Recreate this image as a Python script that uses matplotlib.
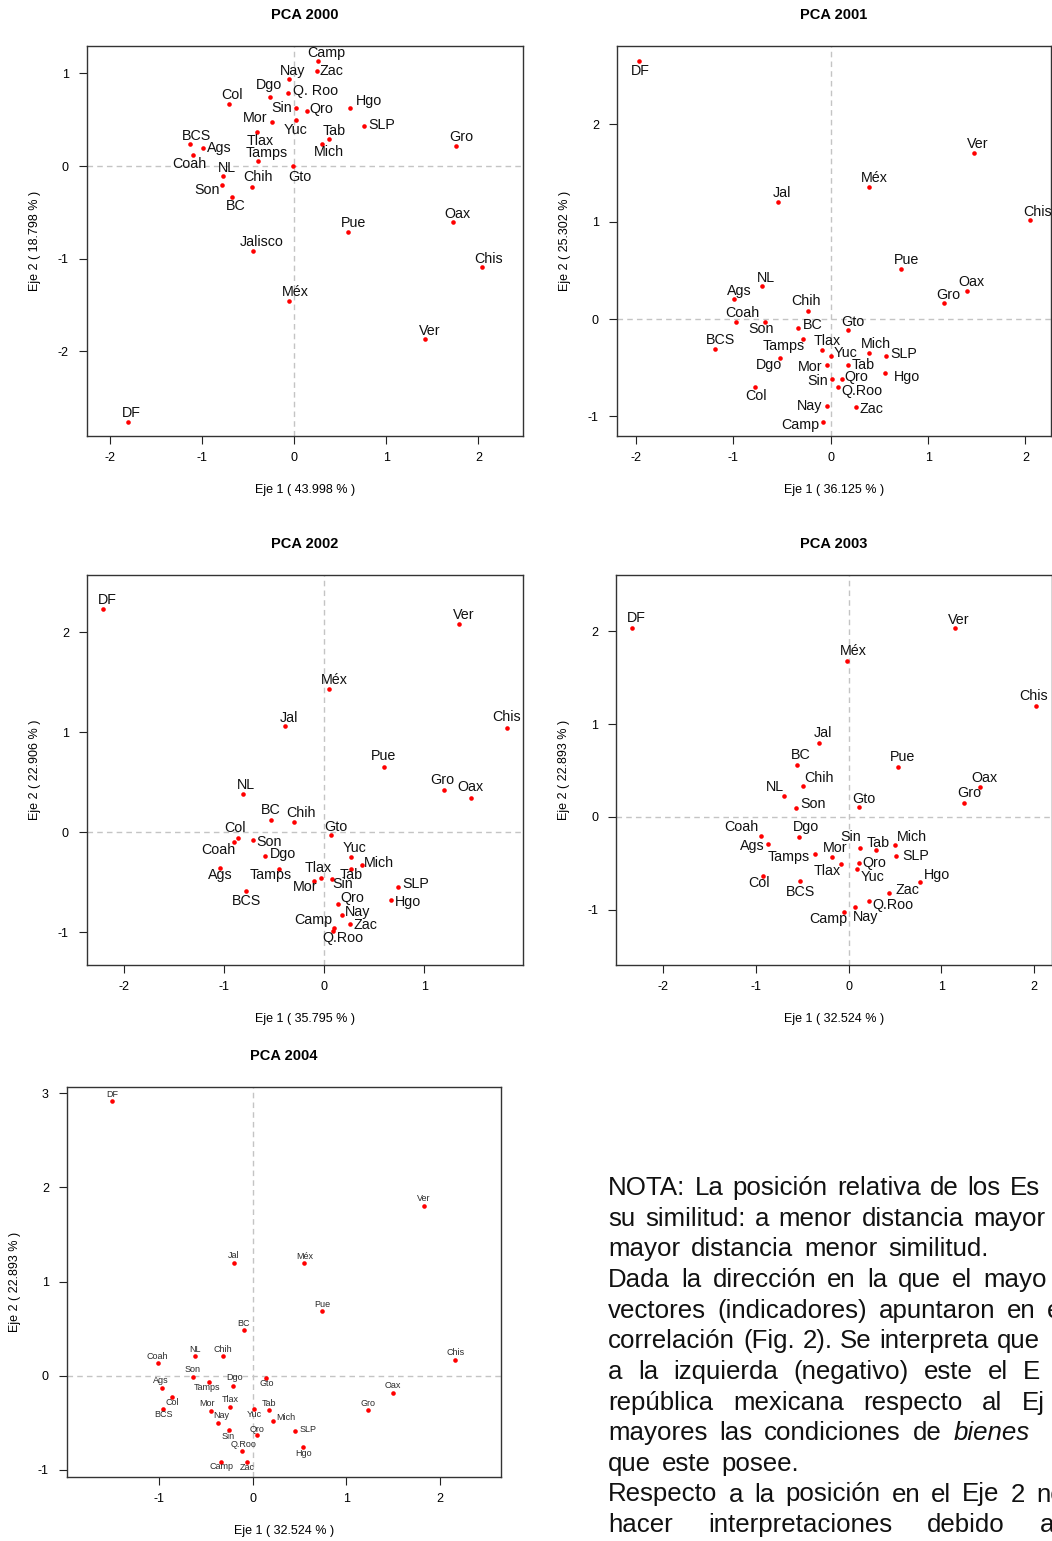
import matplotlib
matplotlib.use('Agg')
import matplotlib.pyplot as plt

plt.rcParams['font.family'] = ['Liberation Sans', 'DejaVu Sans']

W, H = 1052, 1541
fig = plt.figure(figsize=(W / 100, H / 100), dpi=100)

# ---------------- data ----------------
years = [2000, 2001, 2002, 2003, 2004]
eje1_pct = ['43.998', '36.125', '35.795', '32.524', '32.524']
eje2_pct = ['18.798', '25.302', '22.906', '22.893', '22.893']

names_2000 = ['Camp', 'Zac', 'Nay', 'Q. Roo', 'Dgo', 'Col', 'Sin', 'Qro', 'Hgo', 'Mor',
              'Yuc', 'SLP', 'Tlax', 'Tab', 'Mich', 'BCS', 'Ags', 'Coah', 'Tamps', 'Gto',
              'Gro', 'NL', 'Son', 'Chih', 'BC', 'Oax', 'Pue', 'Jalisco', 'Chis', 'Méx',
              'Ver', 'DF']
x_2000 = [0.264, 0.246, -0.051, -0.061, -0.260, -0.701, 0.018, 0.141, 0.611, -0.239,
          0.018, 0.756, -0.401, 0.376, 0.304, -1.124, -0.987, -1.095, -0.394, -0.014,
          1.761, -0.774, -0.781, -0.452, -0.676, 1.721, 0.589, -0.445, 2.043, -0.051,
          1.424, -1.804]
y_2000 = [1.137, 1.022, 0.939, 0.791, 0.745, 0.673, 0.626, 0.594, 0.629, 0.478,
          0.500, 0.435, 0.371, 0.288, 0.237, 0.234, 0.198, 0.115, 0.050, -0.004,
          0.219, -0.112, -0.201, -0.223, -0.331, -0.608, -0.712, -0.917, -1.090, -1.457,
          -1.867, -2.759]

names_2001 = ['DF', 'Ver', 'Méx', 'Jal', 'Chis', 'Pue', 'Oax', 'Gro', 'NL', 'Ags',
              'Chih', 'Coah', 'Son', 'BC', 'Gto', 'BCS', 'Tamps', 'Tlax', 'Mich', 'Yuc',
              'SLP', 'Dgo', 'Mor', 'Tab', 'Hgo', 'Sin', 'Qro', 'Col', 'Q.Roo', 'Nay',
              'Zac', 'Camp']
x_2001 = [-1.970, 1.466, 0.391, -0.545, 2.042, 0.719, 1.401, 1.161, -0.709, -0.990,
          -0.230, -0.976, -0.678, -0.332, 0.178, -1.189, -0.288, -0.089, 0.394, 0.000,
          0.572, -0.517, -0.041, 0.178, 0.558, 0.014, 0.113, -0.778, 0.069, -0.034,
          0.260, -0.079]
y_2001 = [2.652, 1.704, 1.359, 1.205, 1.013, 0.517, 0.287, 0.161, 0.335, 0.205,
          0.086, -0.027, -0.031, -0.096, -0.110, -0.305, -0.202, -0.315, -0.349, -0.376,
          -0.376, -0.400, -0.472, -0.472, -0.551, -0.616, -0.616, -0.702, -0.698, -0.893,
          -0.907, -1.057]

names_2002 = ['DF', 'Ver', 'Méx', 'Jal', 'Chis', 'Pue', 'Gro', 'Oax', 'NL', 'BC',
              'Chih', 'Col', 'Coah', 'Son', 'Gto', 'Dgo', 'Yuc', 'Mich', 'Ags', 'Tamps',
              'Tlax', 'Tab', 'Mor', 'Sin', 'BCS', 'SLP', 'Hgo', 'Qro', 'Nay', 'Zac',
              'Camp', 'Q.Roo']
x_2002 = [-2.209, 1.344, 0.043, -0.393, 1.820, 0.599, 1.194, 1.460, -0.815, -0.529,
          -0.306, -0.862, -0.898, -0.715, 0.070, -0.592, 0.266, 0.376, -1.041, -0.449,
          -0.037, 0.263, -0.106, 0.073, -0.778, 0.732, 0.662, 0.136, 0.176, 0.256,
          0.096, 0.090]
y_2002 = [2.237, 2.087, 1.437, 1.060, 1.047, 0.657, 0.423, 0.347, 0.383, 0.123,
          0.100, -0.060, -0.093, -0.077, -0.027, -0.240, -0.243, -0.330, -0.360, -0.367,
          -0.460, -0.367, -0.490, -0.463, -0.583, -0.550, -0.680, -0.713, -0.823, -0.917,
          -0.953, -0.983]

names_2003 = ['DF', 'Ver', 'Méx', 'Chis', 'Jal', 'BC', 'Pue', 'Chih', 'Oax', 'NL',
              'Gro', 'Son', 'Gto', 'Coah', 'Dgo', 'Ags', 'Sin', 'Tab', 'Mich', 'Mor',
              'Tamps', 'SLP', 'Qro', 'Tlax', 'Yuc', 'Col', 'Hgo', 'BCS', 'Zac', 'Q.Roo',
              'Nay', 'Camp']
x_2003 = [-2.335, 1.144, -0.014, 2.018, -0.324, -0.561, 0.536, -0.496, 1.417, -0.701,
          1.248, -0.568, 0.108, -0.942, -0.532, -0.874, 0.126, 0.291, 0.504, -0.180,
          -0.363, 0.514, 0.108, -0.079, 0.090, -0.924, 0.770, -0.522, 0.439, 0.219,
          0.072, -0.047]
y_2003 = [2.041, 2.034, 1.685, 1.200, 0.798, 0.561, 0.543, 0.331, 0.323, 0.230,
          0.155, 0.101, 0.104, -0.201, -0.212, -0.291, -0.331, -0.356, -0.302, -0.428,
          -0.402, -0.424, -0.496, -0.507, -0.557, -0.632, -0.697, -0.693, -0.823, -0.902,
          -0.970, -1.024]

names_2004 = ['DF', 'Ver', 'Jal', 'Méx', 'Pue', 'BC', 'Chis', 'NL', 'Chih', 'Coah',
              'Son', 'Gto', 'Dgo', 'Tamps', 'Ags', 'Oax', 'Col', 'Gro', 'BCS', 'Mor',
              'Tlax', 'Yuc', 'Tab', 'Mich', 'Nay', 'Sin', 'Qro', 'SLP', 'Hgo', 'Q.Roo',
              'Camp', 'Zac']
x_2004 = [-1.502, 1.833, -0.203, 0.552, 0.744, -0.093, 2.164, -0.612, -0.320, -1.014,
          -0.641, 0.146, -0.206, -0.466, -0.972, 1.495, -0.861, 1.228, -0.954, -0.445,
          -0.246, 0.014, 0.174, 0.221, -0.367, -0.253, 0.046, 0.456, 0.541, -0.117,
          -0.338, -0.060]
y_2004 = [2.915, 1.803, 1.201, 1.194, 0.684, 0.485, 0.170, 0.209, 0.209, 0.131,
          -0.011, -0.028, -0.110, -0.071, -0.135, -0.184, -0.227, -0.365, -0.358, -0.372,
          -0.329, -0.354, -0.368, -0.478, -0.499, -0.574, -0.631, -0.588, -0.755, -0.804,
          -0.921, -0.917]

# ---------------- layout (label offsets in pixels, +y = up) ----------------
off_2000 = {'Camp': (7.7, 8), 'Zac': (15, 0), 'Nay': (3, 8.3), 'Q. Roo': (26.7, 1.7),
            'Dgo': (-1.3, 11.7), 'Col': (3, 8.7), 'Sin': (-14, 0), 'Qro': (14.7, 2),
            'Hgo': (18.7, 6.3), 'Mor': (-17, 3.3), 'Yuc': (0.3, -10.3), 'SLP': (18.3, 0.7),
            'Tlax': (3, -9), 'Tab': (5.3, 8.7), 'Mich': (6.7, -8), 'BCS': (5.7, 8.3),
            'Ags': (16.3, -0.7), 'Coah': (-4, -9), 'Tamps': (9, 8.3), 'Gto': (6.7, -10.7),
            'Gro': (4.7, 8.3), 'NL': (4, 8.3), 'Son': (-15, -5.3), 'Chih': (6, 9.3),
            'BC': (4.3, -9), 'Oax': (4.7, 8.3), 'Pue': (5, 9), 'Jalisco': (9, 9),
            'Chis': (5.7, 8), 'Méx': (6, 9), 'Ver': (4.3, 8.3), 'DF': (3.3, 9)}
off_2001 = {'DF': (1, -10.3), 'Ver': (4.7, 9), 'Méx': (5.3, 9), 'Jal': (4, 8.7),
            'Chis': (7.7, 8.3), 'Pue': (5.7, 8.7), 'Oax': (4.7, 8.7), 'Gro': (5, 8),
            'NL': (3.7, 8.3), 'Ags': (4.7, 8), 'Chih': (-2, 9.7), 'Coah': (6.7, 8.3),
            'Son': (-3.3, -6.7), 'BC': (14, 3), 'Gto': (4.3, 8), 'BCS': (5.7, 8.7),
            'Tamps': (-19, -7), 'Tlax': (4.7, 8.7), 'Mich': (6.7, 9), 'Yuc': (15, 2.3),
            'SLP': (17.7, 1.3), 'Dgo': (-11.3, -7.3), 'Mor': (-16.7, -2.3), 'Tab': (15, 0),
            'Hgo': (21.7, -4), 'Sin': (-14.7, -2), 'Qro': (15, 1.7), 'Col': (0.7, -8.7),
            'Q.Roo': (24.3, -4.3), 'Nay': (-18, -0.3), 'Zac': (15, -1.7), 'Camp': (-23, -3.3)}
off_2002 = {'DF': (4, 9), 'Ver': (4.3, 8.7), 'Méx': (5.3, 8.7), 'Jal': (3.7, 8.3),
            'Chis': (-0.3, 11), 'Pue': (-1, 11), 'Gro': (-1.3, 10), 'Oax': (0, 10.7),
            'NL': (3.7, 9), 'BC': (-1, 10.3), 'Chih': (7, 9.3), 'Col': (-2.7, 10.7),
            'Coah': (-16.3, -8.3), 'Son': (16.7, -2), 'Gto': (4.7, 8), 'Dgo': (17.7, 2),
            'Yuc': (4, 8.7), 'Mich': (17.3, 2.3), 'Ags': (0.3, -6.7), 'Tamps': (-9, -6),
            'Tlax': (-2.7, 10.7), 'Tab': (1, -6), 'Mor': (-8.3, -5.3), 'Sin': (11, -5.7),
            'BCS': (0, -10), 'SLP': (18.3, 3.7), 'Hgo': (17.3, -2), 'Qro': (14.7, 5.3),
            'Nay': (15.3, 2.7), 'Zac': (15.7, -1.3), 'Camp': (-21, 7.7), 'Q.Roo': (9.3, -7.7)}
off_2003 = {'DF': (4.3, 9.7), 'Ver': (4.3, 8.3), 'Méx': (6, 9.3), 'Chis': (-2.7, 9.7),
            'Jal': (4.3, 9.7), 'BC': (4, 9.7), 'Pue': (4.3, 9.7), 'Chih': (16, 8),
            'Oax': (4.3, 9), 'NL': (-8.3, 8.3), 'Gro': (5, 10), 'Son': (17.3, 3.3),
            'Gto': (4.7, 8), 'Coah': (-19.7, 8.7), 'Dgo': (6.3, 9.3), 'Ags': (-15.3, -2.3),
            'Sin': (-9.7, 10.7), 'Tab': (3, 7), 'Mich': (16.3, 8), 'Mor': (3, 8.7),
            'Tamps': (-26, -2.3), 'SLP': (19, 0), 'Qro': (16, 0), 'Tlax': (-14.3, -7),
            'Yuc': (15.3, -8), 'Col': (-4.3, -7), 'Hgo': (17, 6.3), 'BCS': (0, -10.7),
            'Zac': (17.7, 3.3), 'Q.Roo': (24.3, -4.3), 'Nay': (10.3, -10.3), 'Camp': (-16.3, -7.3)}
off_2004 = {'DF': (0, 6.7), 'Ver': (-0.7, 7.3), 'Jal': (0, 7), 'Méx': (0.7, 6.7),
            'Pue': (0.3, 6.7), 'BC': (-0.7, 6.3), 'Chis': (0, 7), 'NL': (0, 7),
            'Chih': (0, 6.3), 'Coah': (0, 6.7), 'Son': (0, 7), 'Gto': (0, -5.3),
            'Dgo': (0.7, 9), 'Tamps': (-2, -5.3), 'Ags': (-0.7, 7.7), 'Oax': (0, 7.3),
            'Col': (0, -5.7), 'Gro': (0, 6.3), 'BCS': (0, -5.3), 'Mor': (-4, 7),
            'Tlax': (0.3, 6.7), 'Yuc': (0, -5.7), 'Tab': (0, 6.7), 'Mich': (12.3, 3.7),
            'Nay': (3, 6.7), 'Sin': (-1, -7), 'Qro': (0, 6), 'SLP': (12.3, 1.3),
            'Hgo': (0.3, -7), 'Q.Roo': (2.3, 6.7), 'Camp': (0, -4.3), 'Zac': (0, -5.3)}

panels = [
    (names_2000, x_2000, y_2000, off_2000, (86.7, 46, 522.7, 436), (-2.248, 2.480), (-2.913, 1.295),
     [-2, -1, 0, 1, 2], [-2, -1, 0, 1], 10.3),
    (names_2001, x_2001, y_2001, off_2001, (616.7, 46, 1051, 436), (-2.199, 2.262), (-1.201, 2.803),
     [-2, -1, 0, 1, 2], [-1, 0, 1, 2], 10.3),
    (names_2002, x_2002, y_2002, off_2002, (86.7, 574.7, 522.7, 965), (-2.371, 1.980), (-1.327, 2.576),
     [-2, -1, 0, 1], [-1, 0, 1, 2], 10.3),
    (names_2003, x_2003, y_2003, off_2003, (616, 574.7, 1052, 965), (-2.510, 2.193), (-1.595, 2.611),
     [-2, -1, 0, 1, 2], [-1, 0, 1, 2], 10.3),
    (names_2004, x_2004, y_2004, off_2004, (66.7, 1086.7, 501, 1476.7), (-1.985, 2.650), (-1.073, 3.071),
     [-1, 0, 1, 2], [-1, 0, 1, 2, 3], 6.5),
]

for i, (nm, xs, ys, offs, rect, xl, yl, xt, yt, lsz) in enumerate(panels):
    l, t, r, b = rect
    ax = fig.add_axes([l / W, (H - b) / H, (r - l) / W, (b - t) / H])
    ax.set_xlim(*xl)
    ax.set_ylim(*yl)
    ax.axhline(0, color='#c4c4c4', lw=1.0, ls=(0, (4, 3)), zorder=1)
    ax.axvline(0, color='#c4c4c4', lw=1.0, ls=(0, (4, 3)), zorder=1)
    ax.plot(xs, ys, 'o', color='red', ms=3.3, mew=0, zorder=3)
    tcol = '#111111' if lsz > 8 else '#2a2a2a'
    for n, xv, yv in zip(nm, xs, ys):
        dx, dy = offs[n]
        ax.annotate(n, (xv, yv), xytext=(dx, dy), textcoords='offset pixels',
                    ha='center', va='center', fontsize=lsz, color=tcol,
                    annotation_clip=False, zorder=4)
    ax.set_xticks(xt)
    ax.set_yticks(yt)
    ax.set_xticklabels([str(v) for v in xt])
    ax.set_yticklabels([str(v) for v in yt])
    ax.tick_params(direction='out', length=5.8, width=0.8, labelsize=9, color='#222222', pad=6)
    ax.tick_params(axis='y', pad=7)
    for s in ax.spines.values():
        s.set_linewidth(1.0)
        s.set_color('#333333')
    hpx = b - t
    wpx = r - l
    ax.text(0.5, 1 + 31 / hpx, 'PCA %d' % years[i], transform=ax.transAxes,
            ha='center', va='center', fontsize=10.5, fontweight='bold')
    ax.text(0.5, -54 / hpx, 'Eje 1 ( %s %% )' % eje1_pct[i], transform=ax.transAxes,
            ha='center', va='center', fontsize=9)
    ax.text(-52 / wpx, 0.5, 'Eje 2 ( %s %% )' % eje2_pct[i], transform=ax.transAxes,
            ha='center', va='center', fontsize=9, rotation=90)

# ---------------- note text (justified lines, cut at the right edge) ----------------
# each line: visible words, pixel x where the last word starts
note_lines = [
    ('NOTA: La posición relativa de los Es', 1010),
    ('su similitud: a menor distancia mayor', 973.3),
    ('mayor distancia menor similitud.', 888),
    ('Dada la dirección en la que el mayo', 983.3),
    ('vectores (indicadores) apuntaron en e', 1046.7),
    ('correlación (Fig. 2). Se interpreta que', 996.7),
    ('a la izquierda (negativo) este el E', 1023.3),
    ('república mexicana respecto al Ej', 1021.7),
    ('mayores las condiciones de *bienes', 953.3),
    ('que este posee.', 721),
    ('Respecto a la posición en el Eje 2 no', 1036),
    ('hacer interpretaciones debido a', 1040),
]
NOTE_X0 = 608.3
NOTE_FS = 18.6
renderer = fig.canvas.get_renderer()


def word_width(w, style):
    t = fig.text(0, 0, w, fontsize=NOTE_FS, style=style)
    wd = t.get_window_extent(renderer).width
    t.remove()
    return wd


for k, (line, last_x) in enumerate(note_lines):
    base = 1195 + 30.65 * k
    clean, styles = [], []
    for w in line.split(' '):
        if w.startswith('*'):
            clean.append(w[1:])
            styles.append('italic')
        else:
            clean.append(w)
            styles.append('normal')
    widths = [word_width(w, s) for w, s in zip(clean, styles)]
    gap = (last_x - NOTE_X0 - sum(widths[:-1])) / (len(clean) - 1)
    xp = NOTE_X0
    for w, s, wd in zip(clean, styles, widths):
        fig.text(xp / W, (H - base) / H, w, ha='left', va='baseline', fontsize=NOTE_FS,
                 style=s, color='#111111')
        xp += wd + gap

fig.savefig('out.png', dpi=100)
